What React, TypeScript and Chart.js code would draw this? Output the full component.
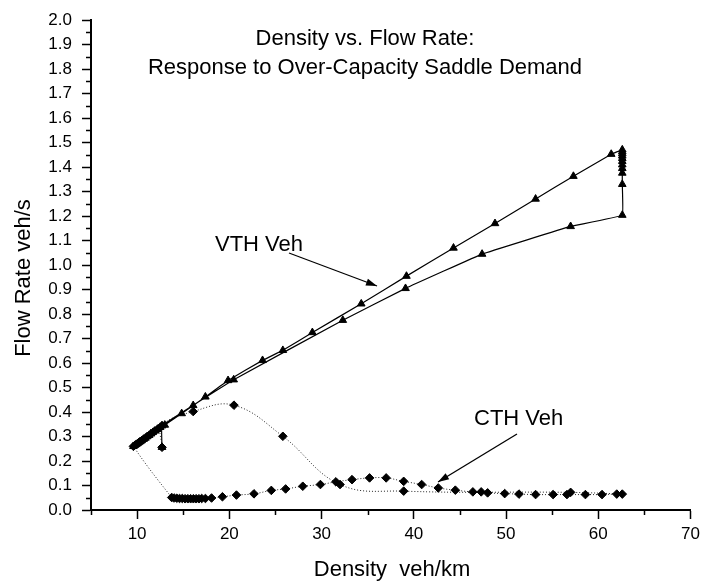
import React, { useEffect, useRef } from 'react';
import { Chart, registerables } from 'chart.js';
Chart.register(...registerables);

// VTH vehicles (triangles, solid line)
const vthX = [9.6, 9.75, 9.9, 10.05, 10.2, 10.35, 10.5, 10.7, 10.9, 11.1, 11.3, 11.5, 11.7, 11.95, 12.2, 12.5, 13.0, 14.83, 16.08, 17.4, 19.86, 23.6, 25.8, 29.0, 34.3, 39.2, 44.3, 48.8, 53.2, 57.3, 61.4, 62.6, 62.6, 62.6, 62.6, 62.6, 62.6, 62.6, 62.6, 62.6, 62.6, 62.6, 57.0, 47.4, 39.1, 32.3, 20.47, 12.7, 12.7];
const vthY = [0.26, 0.264, 0.268, 0.272, 0.276, 0.28, 0.284, 0.289, 0.294, 0.3, 0.305, 0.311, 0.317, 0.323, 0.33, 0.338, 0.347, 0.394, 0.427, 0.462, 0.529, 0.611, 0.652, 0.725, 0.842, 0.955, 1.07, 1.17, 1.27, 1.363, 1.453, 1.471, 1.463, 1.455, 1.446, 1.436, 1.424, 1.41, 1.395, 1.376, 1.33, 1.204, 1.158, 1.045, 0.905, 0.775, 0.532, 0.344, 0.256];

// CTH vehicles (diamonds, dotted line)
const cthX = [12.3, 11.9, 11.5, 11.1, 10.7, 10.3, 9.9, 9.6, 13.75, 14.0, 14.3, 14.6, 14.9, 15.2, 15.5, 15.8, 16.1, 16.4, 16.7, 17.0, 17.4, 18.07, 19.25, 20.77, 22.67, 24.55, 26.1, 27.96, 29.87, 31.55, 33.3, 35.2, 37.0, 38.9, 40.85, 42.65, 44.5, 46.4, 47.3, 48.0, 49.85, 51.4, 53.2, 55.1, 56.6, 58.6, 60.4, 62.0, 62.6, 57.0, 38.9, 32.0, 25.8, 20.5, 16.08, 12.7, 12.7];
const cthY = [0.332, 0.322, 0.311, 0.3, 0.289, 0.278, 0.267, 0.26, 0.051, 0.049, 0.048, 0.047, 0.047, 0.046, 0.046, 0.046, 0.046, 0.046, 0.046, 0.047, 0.047, 0.049, 0.054, 0.061, 0.066, 0.08, 0.086, 0.097, 0.104, 0.115, 0.124, 0.131, 0.131, 0.117, 0.104, 0.09, 0.081, 0.074, 0.074, 0.07, 0.067, 0.065, 0.063, 0.063, 0.063, 0.063, 0.063, 0.065, 0.065, 0.072, 0.077, 0.104, 0.301, 0.428, 0.402, 0.344, 0.256];

const xTicks = [10, 20, 30, 40, 50, 60, 70];
const yTicks = [0, 0.1, 0.2, 0.3, 0.4, 0.5, 0.6, 0.7, 0.8, 0.9, 1.0, 1.1, 1.2, 1.3, 1.4, 1.5, 1.6, 1.7, 1.8, 1.9, 2.0];
const xMinorTicks = [5, 15, 25, 35, 45, 55, 65];
const yMinorTicks = [0.05, 0.15, 0.25, 0.35, 0.45, 0.55, 0.65, 0.75, 0.85, 0.95, 1.05, 1.15, 1.25, 1.35, 1.45, 1.55, 1.65, 1.75, 1.85, 1.95];

const titleLines = ['Density vs. Flow Rate:', 'Response to Over-Capacity Saddle Demand'];
const xTitle = 'Density  veh/km';
const yTitle = 'Flow Rate veh/s';
const vthLabel = 'VTH Veh';
const cthLabel = 'CTH Veh';

const FONT = '"Liberation Sans", Arial, Helvetica, sans-serif';

function arrow(ctx: CanvasRenderingContext2D, x1: number, y1: number, x2: number, y2: number) {
  ctx.beginPath();
  ctx.moveTo(x1, y1);
  ctx.lineTo(x2, y2);
  ctx.lineWidth = 1.3;
  ctx.stroke();
  const a = Math.atan2(y2 - y1, x2 - x1);
  const L = 11, W = 3.5;
  ctx.beginPath();
  ctx.moveTo(x2, y2);
  ctx.lineTo(x2 - L * Math.cos(a) + W * Math.sin(a), y2 - L * Math.sin(a) - W * Math.cos(a));
  ctx.lineTo(x2 - L * Math.cos(a) - W * Math.sin(a), y2 - L * Math.sin(a) + W * Math.cos(a));
  ctx.closePath();
  ctx.fill();
}

const overlay = {
  id: 'overlay',
  afterDraw(chart: any) {
    const ctx: CanvasRenderingContext2D = chart.ctx;
    const xs = chart.scales.x;
    const ys = chart.scales.y;
    const ca = chart.chartArea;
    ctx.save();
    ctx.strokeStyle = '#000';
    ctx.fillStyle = '#000';
    ctx.lineWidth = 1.5;
    ctx.beginPath();
    xMinorTicks.forEach((v) => {
      const px = Math.round(xs.getPixelForValue(v)) + 0.5;
      ctx.moveTo(px, ca.bottom);
      ctx.lineTo(px, ca.bottom + 5);
    });
    yMinorTicks.forEach((v) => {
      const py = Math.round(ys.getPixelForValue(v)) + 0.5;
      ctx.moveTo(ca.left - 5, py);
      ctx.lineTo(ca.left, py);
    });
    ctx.stroke();

    ctx.font = `22px ${FONT}`;
    ctx.textAlign = 'center';
    ctx.textBaseline = 'alphabetic';
    ctx.fillText(titleLines[0], 365, 45);
    ctx.fillText(titleLines[1], 365, 74);
    ctx.fillText(xTitle, 392, 576);

    ctx.textAlign = 'left';
    ctx.fillText(vthLabel, 215, 251);
    ctx.fillText(cthLabel, 474, 425);

    arrow(ctx, 289, 253, 377, 286);
    arrow(ctx, 517, 434, 438, 482);

    ctx.save();
    ctx.translate(30, 278);
    ctx.rotate(-Math.PI / 2);
    ctx.textAlign = 'center';
    ctx.fillText(yTitle, 0, 0);
    ctx.restore();
    ctx.restore();
  },
};

export default function App() {
  const ref = useRef<HTMLCanvasElement>(null);
  useEffect(() => {
    if (!ref.current) return;
    const chart = new Chart(ref.current, {
      type: 'scatter',
      data: {
        datasets: [
          {
            label: 'VTH Veh',
            data: vthX.map((x, i) => ({ x, y: vthY[i] })),
            showLine: true,
            tension: 0.06,
            borderColor: '#000',
            borderWidth: 1.2,
            backgroundColor: '#000',
            pointStyle: 'triangle',
            pointRadius: 4.4,
            pointBorderWidth: 1,
            pointBorderColor: '#000',
            pointBackgroundColor: '#000',
          },
          {
            label: 'CTH Veh',
            data: cthX.map((x, i) => ({ x, y: cthY[i] })),
            showLine: true,
            tension: 0.4,
            borderColor: '#222',
            borderWidth: 1,
            borderDash: [1, 2],
            backgroundColor: '#000',
            pointStyle: 'rectRot',
            pointRadius: 4.3,
            pointBorderWidth: 1,
            pointBorderColor: '#000',
            pointBackgroundColor: '#000',
          },
        ],
      },
      options: {
        animation: false,
        responsive: false,
        layout: { padding: { top: 16, right: 12, left: 0, bottom: 0 } },
        plugins: { legend: { display: false }, tooltip: { enabled: false }, title: { display: false } },
        scales: {
          x: {
            type: 'linear',
            min: 5,
            max: 70,
            afterBuildTicks: (s: any) => { s.ticks = xTicks.map((value) => ({ value })); },
            afterFit: (s: any) => { s.height = 77; },
            ticks: { color: '#000', font: { size: 17, family: FONT }, padding: 5, maxRotation: 0, autoSkip: false, callback: (v: any) => String(v) },
            grid: { display: true, drawOnChartArea: false, drawTicks: true, tickLength: 9, tickWidth: 1.5, tickColor: '#000' },
            border: { display: true, color: '#000', width: 2 },
          },
          y: {
            type: 'linear',
            min: 0,
            max: 2,
            afterBuildTicks: (s: any) => { s.ticks = yTicks.map((value) => ({ value })); },
            afterFit: (s: any) => { s.width = 91; },
            ticks: { color: '#000', font: { size: 17, family: FONT }, padding: 10, autoSkip: false, callback: (v: any) => Number(v).toFixed(1) },
            grid: { display: true, drawOnChartArea: false, drawTicks: true, tickLength: 9, tickWidth: 1.5, tickColor: '#000' },
            border: { display: true, color: '#000', width: 2 },
          },
        },
      },
      plugins: [overlay],
    } as any);
    return () => chart.destroy();
  }, []);
  return (
    <div style={{ position: 'absolute', left: 0, top: 0, width: 705, height: 587, background: '#fff' }}>
      <canvas ref={ref} width={705} height={587} style={{ display: 'block' }} />
    </div>
  );
}
